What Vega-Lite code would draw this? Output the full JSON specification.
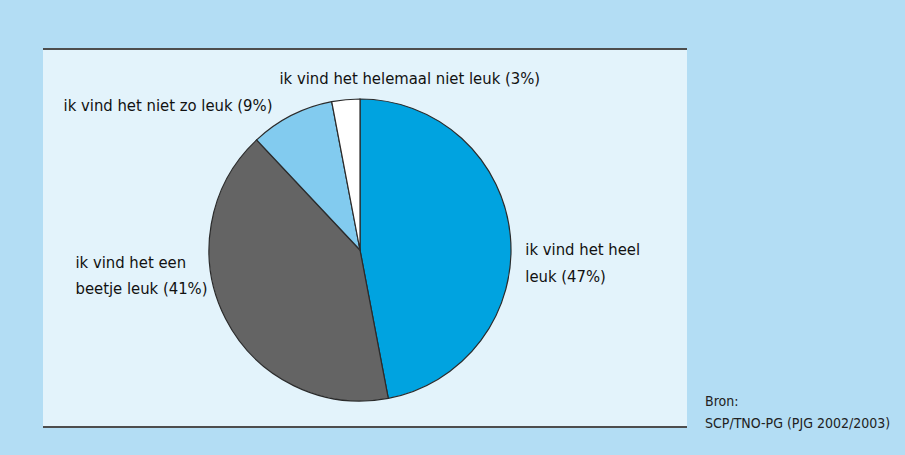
{
  "$schema": "https://vega.github.io/schema/vega-lite/v6.json",
  "width": 644,
  "height": 379,
  "autosize": {"type": "none"},
  "padding": {"left": 43, "top": 48, "right": 218, "bottom": 28},
  "background": "#b3ddf4",
  "view": {"fill": "#e3f3fb", "stroke": null},
  "config": {
    "view": {"fill": "#e3f3fb", "stroke": null},
    "text": {"font": "Liberation Sans Narrow, DejaVu Sans Condensed, Roboto Condensed, Liberation Sans", "fontSize": 16.5, "color": "#111111"}
  },
  "title": {
    "text": ["Bron:", "SCP/TNO-PG (PJG 2002/2003)"],
    "orient": "bottom",
    "anchor": "start",
    "frame": "group",
    "align": "left",
    "baseline": "top",
    "dx": 662,
    "offset": -33,
    "font": "Liberation Sans Narrow, DejaVu Sans Condensed, Roboto Condensed, Liberation Sans",
    "fontSize": 14,
    "fontWeight": "normal",
    "color": "#222222",
    "lineHeight": 22
  },
  "data": {
    "values": [
      {"cat": "ik vind het heel leuk", "pct": 47, "i": 1, "label": "ik vind het heel|leuk (47%)"},
      {"cat": "ik vind het een beetje leuk", "pct": 41, "i": 2, "label": "ik vind het een|beetje leuk (41%)"},
      {"cat": "ik vind het niet zo leuk", "pct": 9, "i": 3, "label": "ik vind het niet zo leuk (9%)"},
      {"cat": "ik vind het helemaal niet leuk", "pct": 3, "i": 4, "label": "ik vind het helemaal niet leuk (3%)"}
    ]
  },
  "encoding": {
    "theta": {"field": "pct", "type": "quantitative", "stack": true},
    "order": {"field": "i", "type": "quantitative"}
  },
  "layer": [
    {
      "mark": {"type": "rule", "stroke": "#4d4d4d", "strokeWidth": 2},
      "encoding": {"y": {"value": 1}, "theta": null, "order": null}
    },
    {
      "mark": {"type": "rule", "stroke": "#4d4d4d", "strokeWidth": 2},
      "encoding": {"y": {"value": 379}, "theta": null, "order": null}
    },
    {
      "mark": {"type": "arc", "x": 317, "y": 202, "outerRadius": 151, "stroke": "#2b2b2b", "strokeWidth": 1.2},
      "encoding": {
        "color": {
          "field": "cat",
          "type": "nominal",
          "legend": null,
          "scale": {
            "domain": ["ik vind het heel leuk", "ik vind het een beetje leuk", "ik vind het niet zo leuk", "ik vind het helemaal niet leuk"],
            "range": ["#00a3e0", "#646464", "#82cbef", "#ffffff"]
          }
        }
      }
    },
    {
      "mark": {"type": "text", "x": 317, "y": 202, "radius": 151, "align": "left", "baseline": "alphabetic", "lineBreak": "|", "lineHeight": 27, "dx": 15, "dy": 19},
      "encoding": {"text": {"condition": {"test": "datum.i === 1", "field": "label"}, "value": ""}}
    },
    {
      "mark": {"type": "text", "x": 317, "y": 202, "radius": 151, "align": "left", "baseline": "alphabetic", "lineBreak": "|", "lineHeight": 26, "dx": -150, "dy": -51},
      "encoding": {"text": {"condition": {"test": "datum.i === 2", "field": "label"}, "value": ""}}
    },
    {
      "mark": {"type": "text", "x": 317, "y": 202, "radius": 151, "align": "right", "baseline": "alphabetic", "dx": -19, "dy": -4},
      "encoding": {"text": {"condition": {"test": "datum.i === 3", "field": "label"}, "value": ""}}
    },
    {
      "mark": {"type": "text", "x": 317, "y": 202, "radius": 151, "align": "center", "baseline": "alphabetic", "dx": 64, "dy": -16},
      "encoding": {"text": {"condition": {"test": "datum.i === 4", "field": "label"}, "value": ""}}
    }
  ]
}
